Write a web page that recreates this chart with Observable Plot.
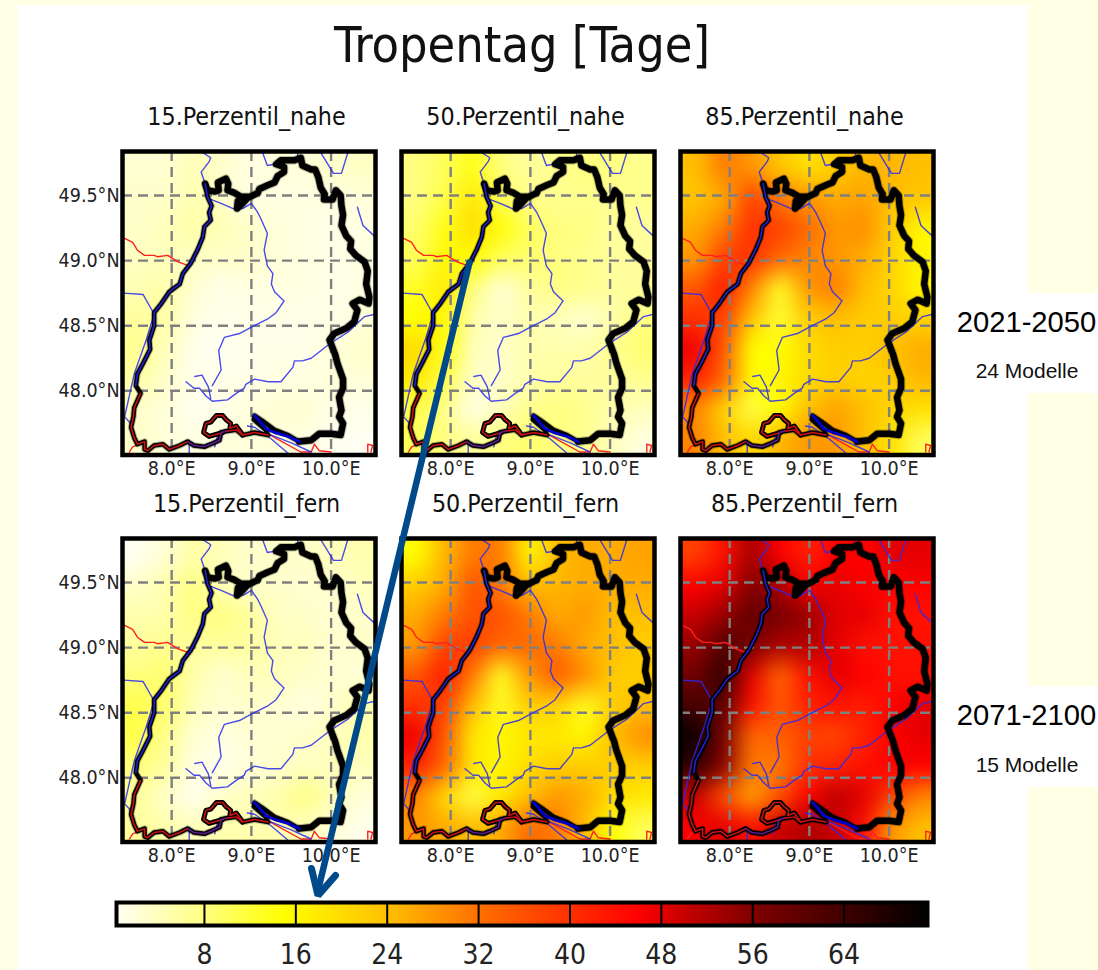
<!DOCTYPE html>
<html><head><meta charset="utf-8">
<script src="https://cdn.jsdelivr.net/npm/d3@7"></script>
<script src="https://cdn.jsdelivr.net/npm/@observablehq/plot@0.6"></script>
<style>
html,body{margin:0;padding:0;background:#ffffe6;overflow:hidden}
#page{position:relative;width:1098px;height:970px;overflow:hidden}
.bg{position:absolute;background:#fff}
.t{position:absolute;transform:translate(-50%,-50%);white-space:nowrap;color:#111}
.dj{font-family:"DejaVu Sans Condensed","DejaVu Sans",sans-serif}
.ar{font-family:"Liberation Sans",Arial,sans-serif}
#page svg{position:absolute;background:transparent;overflow:visible}
</style></head><body><div id="page"></div>
<script>
// ---------- data ----------
const gridCols = 9, gridRows = 10;
const lonTicks = [8, 9, 10], latTicks = [48, 48.5, 49, 49.5];
const cbTicks = [8, 16, 24, 32, 40, 48, 56, 64];
const cmapValues = [0, 8, 15, 24, 32, 40, 46, 50, 56, 64, 71.3];
const cmapColors = ["#fffff8", "#ffff80", "#ffff00", "#ffc000", "#ff7000", "#ff3000", "#ff0000", "#c80000", "#800000", "#400000", "#000000"];

const p15nahe = [
 2.5,2.5,4.5,3,1.5,2,2,3,3.5,
 3,3,5,3,1.5,1.5,1.5,1.5,2,
 3,4,5.5,4.5,3,2,1.5,1,1.5,
 3.5,4,3.5,3,3,2,1.5,1,1.5,
 4.5,5.5,2.5,1,1.5,1.5,1.5,1,1.5,
 6,5.5,1.5,0.8,1,1,1,1,2,
 7,4,0.8,0.3,1,1,1,2,3,
 5.5,3,0.8,1,1,1.5,1.5,2,2,
 3,2,0.5,1,2,2.5,2.5,1,1,
 3,2,1.5,2,2,2,1.5,0.5,0.2];
const p50nahe = [
 8,10,14,8,6,7,8,8,7,
 8,11,18,10,7,7,7,7,7,
 9,14,20,15,10,8,8,6,6,
 10,16,15,10,9,8,7,6,6,
 13,18,8,2,6,8,7,6,6,
 15,16,5,3,5,4,2.5,5,8,
 20,14,4,3,5,5,5,7,9,
 18,11,3,3,5,6,6,6,7,
 11,7,1,4,7,8,7,5,4,
 10,8,6,8,9,8,7,4,1.5];
const p85nahe = [
 24,31,28,23,19,22,25,25,24,
 23,26,38,31,28,26,27,24,23,
 26,31,40,38,33,28,29,22,16,
 28,38,40,33,30,28,26,21,16,
 35,43,30,13,28,31,24,21,16,
 40,38,23,12,22,24,22,22,21,
 47,35,15,15,20,22,22,24,26,
 42,33,15,16,20,22,21,22,25,
 30,21,11,15,24,27,24,21,19,
 30,24,20,25,28,28,24,19,10];
const p15fern = [
 0.5,2.5,5.5,4,3,3,3,4,5,
 3,5,8,4,3,3,2.5,3,4,
 5,5,8,8,6,3.5,3,2.5,3,
 6,7,6,6,6,4,4,2.5,3,
 8,9,5,2.5,4,4,3,2.5,2,
 11,9,4,2.5,3,2.5,1.5,3,5,
 11,7,2.5,1.5,2.5,2.5,3,4,5,
 8,6,1.5,1,2,3,3.5,4,4,
 6,3,0.5,3,4,5,8,4,2,
 6,5,4,5,5,5,4,2,0.8];
const p50fern = [
 15,25,31,31,16,24,26,26,27,
 22,26,36,31,24,25,26,26,26,
 26,31,36,36,31,26,28,24,24,
 28,38,38,33,33,31,26,24,22,
 35,43,31,13,28,35,29,22,22,
 40,38,24,13,22,21,13,22,24,
 47,35,18,16,18,18,16,24,29,
 42,33,18,16,20,22,22,22,22,
 30,20,11,18,24,28,26,20,18,
 28,26,24,26,33,31,24,15,10];
const p85fern = [
 38,44,53,46,42,46,46,48,48,
 46,48,56,52,46,48,46,46,46,
 50,54,60,57,54,48,48,44,44,
 54,62,57,52,52,48,44,44,44,
 58,66,48,33,44,48,46,44,44,
 63,60,44,35,42,44,42,46,48,
 70,57,33,34,38,37,42,46,48,
 66,55,31,31,40,42,44,46,46,
 50,36,27,36,46,51,48,38,30,
 46,48,44,50,52,50,44,28,24];

const borderEastLon = [8.42,8.45,8.54,8.59,8.58,8.68,8.71,8.70,8.79,8.87,8.97,8.83,8.82,8.89,8.95,9.08,9.10,9.21,9.29,9.33,9.41,9.41,9.31,9.37,9.54,9.62,9.64,9.75,9.80,9.84,9.87,9.92,9.91,10.02,10.06,10.12,10.13,10.15,10.13,10.19,10.25,10.24,10.31,10.42,10.46,10.44,10.48,10.47,10.36,10.27,10.33,10.29,10.19,10.04,9.98,10.05,10.08,10.15,10.15,10.10,10.13,10.10,10.15,10.12,10.00,9.85,9.75,9.60];
const borderEastLat = [49.59,49.54,49.53,49.54,49.60,49.63,49.59,49.54,49.52,49.49,49.49,49.46,49.40,49.44,49.48,49.52,49.55,49.58,49.60,49.65,49.68,49.72,49.74,49.77,49.77,49.79,49.73,49.70,49.70,49.64,49.56,49.51,49.47,49.47,49.54,49.50,49.42,49.35,49.27,49.19,49.15,49.09,49.04,48.99,48.92,48.82,48.72,48.67,48.70,48.67,48.62,48.53,48.48,48.44,48.39,48.28,48.21,48.09,48.02,47.95,47.85,47.80,47.75,47.66,47.67,47.67,47.62,47.61];
const borderWestLon = [9.60,9.46,9.29,9.16,9.04,9.03,9.18,9.21,9.04,8.89,8.81,8.68,8.62,8.60,8.49,8.41,8.28,8.20,8.10,7.97,7.89,7.78,7.70,7.66,7.66,7.57,7.53,7.49,7.52,7.53,7.61,7.55,7.57,7.64,7.73,7.72,7.78,7.78,7.87,7.97,8.10,8.14,8.24,8.33,8.39,8.41,8.49,8.47,8.50,8.45,8.42];
const borderWestLat = [47.61,47.66,47.70,47.76,47.81,47.78,47.70,47.66,47.68,47.66,47.70,47.69,47.68,47.62,47.59,47.57,47.58,47.61,47.58,47.55,47.59,47.58,47.54,47.55,47.61,47.59,47.64,47.72,47.80,47.87,47.98,48.04,48.13,48.21,48.32,48.39,48.50,48.60,48.67,48.76,48.82,48.90,48.98,49.09,49.18,49.26,49.31,49.37,49.42,49.49,49.59];
const lakeLon = [8.64,8.47,8.40,8.43,8.49,8.56,8.64,8.68,8.74,8.73,8.81,8.87,8.89];
const lakeLat = [47.68,47.65,47.68,47.75,47.76,47.81,47.81,47.78,47.75,47.71,47.73,47.68,47.66];
const lakeBlueLon = [9.04,9.10,9.18,9.29,9.46,9.60];
const lakeBlueLat = [47.81,47.77,47.71,47.68,47.65,47.61];

const neckarLon = [8.51,8.62,8.60,8.59,8.66,8.85,9.00,9.20,9.31,9.41,9.29,9.25,9.27,9.20,9.16,9.20,9.12,9.08,9.00,8.89,8.77,8.62,8.49];
const neckarLat = [48.04,48.16,48.26,48.31,48.41,48.44,48.49,48.55,48.60,48.69,48.76,48.82,48.90,48.96,49.08,49.21,49.32,49.37,49.44,49.40,49.40,49.44,49.47];
const danubeLon = [8.18,8.28,8.35,8.43,8.51,8.70,8.81,8.91,8.93,9.04,9.21,9.37,9.52,9.54,9.64,9.75,9.98,10.21,10.42,10.56];
const danubeLat = [48.07,48.02,48.02,47.96,47.92,47.93,47.98,48.02,48.05,48.09,48.07,48.07,48.18,48.23,48.23,48.25,48.36,48.45,48.57,48.59];
const brigachLon = [8.29,8.38,8.46,8.49];
const brigachLat = [48.11,48.12,48.03,47.94];
const rhineTopLon = [8.39,8.49,8.47,8.37,8.42];
const rhineTopLat = [49.83,49.79,49.76,49.68,49.59];
const illLon = [7.40,7.64,7.78,7.68,7.53,7.41,7.47,7.51];
const illLat = [48.75,48.74,48.59,48.39,48.13,47.80,47.76,47.67];
const jagstLon = [9.14,9.20,9.29];
const jagstLat = [49.83,49.73,49.74];
const kocherLon = [9.37,9.54,9.58,9.58];
const kocherLat = [49.77,49.76,49.77,49.83];
const tauberLon = [9.87,10.03,10.13,10.21];
const tauberLat = [49.83,49.67,49.67,49.83];
const mainLon = [10.33,10.40,10.54];
const mainLat = [49.41,49.27,49.19];
const hochrheinLon = [8.95,9.04,9.25,9.46];
const hochrheinLat = [47.73,47.72,47.63,47.52];
const alpRhineLon = [9.21,9.50,9.75];
const alpRhineLat = [47.67,47.60,47.53];
const wutachLon = [8.22,8.22];
const wutachLat = [47.62,47.52];
const aachLon = [8.58,8.54];
const aachLat = [47.67,47.57];

const frBorderLon = [7.41,7.51,7.57,7.66,7.78,7.82,7.95,8.08,8.22];
const frBorderLat = [49.17,49.14,49.08,49.04,49.04,49.03,49.04,48.99,48.96];
const swissWestLon = [7.47,7.51,7.64];
const swissWestLat = [47.53,47.57,47.60];
const swissEastLon = [9.21,9.62,9.75,9.79,9.85,10.00];
const swissEastLat = [47.67,47.53,47.53,47.59,47.54,47.53];
const tipLon = [10.46,10.46,10.52,10.50];
const tipLat = [47.53,47.59,47.58,47.53];
const redCoreLon = [7.61,7.53,7.52,7.49,7.53,7.57,7.66,7.66,7.70,7.78,7.89,7.97,8.10,8.20];
const redCoreLat = [47.98,47.87,47.80,47.72,47.64,47.59,47.61,47.55,47.54,47.58,47.59,47.55,47.58,47.61];
const redLakeLon = [8.68,8.81,8.89,9.04,9.21];
const redLakeLat = [47.69,47.70,47.66,47.68,47.66];
const purpleSouthLon = [8.20,8.28,8.41,8.49,8.60,8.62,8.68];
const purpleSouthLat = [47.61,47.58,47.57,47.59,47.62,47.68,47.69];
const rhineWestLon = [8.42,8.45,8.50,8.47,8.49,8.41,8.39,8.33,8.24,8.14,8.10,7.97,7.87,7.78,7.78,7.72,7.73,7.64,7.57,7.55];
const rhineWestLat = [49.59,49.49,49.42,49.37,49.31,49.26,49.18,49.09,48.98,48.90,48.82,48.76,48.67,48.60,48.50,48.39,48.32,48.21,48.13,48.04];
const arrowX = [469,317.5], arrowY = [262,890];
const arrowHeadX = [311,317.5,335], arrowHeadY = [868,895,875];

const panels = [
 {title:"15.Perzentil_nahe", values:p15nahe, col:0, row:0},
 {title:"50.Perzentil_nahe", values:p50nahe, col:1, row:0},
 {title:"85.Perzentil_nahe", values:p85nahe, col:2, row:0},
 {title:"15.Perzentil_fern", values:p15fern, col:0, row:1},
 {title:"50.Perzentil_fern", values:p50fern, col:1, row:1},
 {title:"85.Perzentil_fern", values:p85fern, col:2, row:1}
];
// ---------- layout ----------
const page = document.getElementById("page");
function bg(l,t,w,h){const d=document.createElement("div");d.className="bg";d.style.cssText=`left:${l}px;top:${t}px;width:${w}px;height:${h}px`;page.appendChild(d);}
function txt(s,cx,cy,size,cls){const d=document.createElement("div");d.className="t "+cls;d.textContent=s;d.style.left=cx+"px";d.style.top=cy+"px";d.style.fontSize=size+"px";page.appendChild(d);return d;}
bg(18,5,1010,965); bg(1028,293,70,100); bg(1028,686,70,101);

const color = {type:"linear", domain:cmapValues, range:cmapColors, clamp:true};
const lonDomain=[7.383,10.557], latDomain=[47.507,49.838];
const gridLon=[7.389,10.551], gridLat=[47.519,49.838];
const colX=[121.5,400.5,679.5], rowY=[151,538];
// one replicated ring of cells so that the smoothing does not fade at the panel edge
function ringed(v){
  const out=[];
  for(let r=-1;r<=gridRows;r++) for(let c=-1;c<=gridCols;c++){
    const rr=Math.max(0,Math.min(gridRows-1,r)), cc=Math.max(0,Math.min(gridCols-1,c));
    out.push(v[rr*gridCols+cc]);
  }
  return out;
}
const dLon=(gridLon[1]-gridLon[0])/gridCols, dLat=(gridLat[1]-gridLat[0])/gridRows;
const ln=(lon,lat,o)=>Plot.line(lon,{x:lon,y:lat,...o});
const blueThin={stroke:"#2a2af0",strokeWidth:1.4,strokeOpacity:0.85};
const redThin={stroke:"#ff2020",strokeWidth:1.4};
const redCore={stroke:"#d01010",strokeWidth:1.5};
const halo=(w)=>({stroke:"#000",strokeWidth:w+2,strokeOpacity:0.25,strokeLinejoin:"round"});
const solid=(w)=>({stroke:"#000",strokeWidth:w,strokeLinejoin:"round"});
const gridStyle={stroke:"#808080",strokeWidth:2.4,strokeDasharray:"10 6"};
const mL=72,mB=34;

panels.forEach(p=>{
  const left=colX[p.col], top=rowY[p.row];
  const marks=[
    Plot.raster(ringed(p.values),{width:gridCols+2,height:gridRows+2,
      x1:gridLon[0]-dLon,x2:gridLon[1]+dLon,y1:gridLat[1]+dLat,y2:gridLat[0]-dLat,clip:true,imageRendering:"auto"}),
    Plot.ruleX(lonTicks,gridStyle),
    Plot.ruleY(latTicks,gridStyle),
    ln(frBorderLon,frBorderLat,redThin), ln(swissWestLon,swissWestLat,redThin), ln(swissEastLon,swissEastLat,redThin), ln(tipLon,tipLat,redThin),
    ln(neckarLon,neckarLat,blueThin), ln(danubeLon,danubeLat,blueThin), ln(brigachLon,brigachLat,blueThin), ln(rhineTopLon,rhineTopLat,blueThin),
    ln(illLon,illLat,blueThin), ln(jagstLon,jagstLat,blueThin), ln(kocherLon,kocherLat,blueThin), ln(tauberLon,tauberLat,blueThin),
    ln(mainLon,mainLat,blueThin), ln(hochrheinLon,hochrheinLat,blueThin), ln(alpRhineLon,alpRhineLat,blueThin),
    ln(wutachLon,wutachLat,blueThin), ln(aachLon,aachLat,blueThin),
    ln(borderEastLon,borderEastLat,halo(6.5)),
    ln(borderEastLon,borderEastLat,solid(6.5)),
    ln(borderWestLon,borderWestLat,halo(4.5)),
    ln(borderWestLon,borderWestLat,solid(4.5)),
    ln(lakeLon,lakeLat,solid(5)),
    ln(lakeLon,lakeLat,redCore),
    ln(redCoreLon,redCoreLat,redCore),
    ln(redLakeLon,redLakeLat,redCore),
    ln(purpleSouthLon,purpleSouthLat,{stroke:"#5a1a90",strokeWidth:1.6}),
    ln(rhineWestLon,rhineWestLat,{stroke:"#2020d0",strokeWidth:1.6}),
    ln(lakeBlueLon,lakeBlueLat,{stroke:"#0000c8",strokeWidth:3}),
    Plot.frame({stroke:"#000",strokeWidth:4.5}),
    Plot.axisX(lonTicks,{anchor:"bottom",tickSize:0,tickPadding:6,tickFormat:d=>d.toFixed(1)+"°E",fontSize:19.5,fill:"#222"})
  ];
  if(p.col===0) marks.push(Plot.axisY(latTicks,{anchor:"left",tickSize:0,tickPadding:3,tickFormat:d=>d.toFixed(1)+"°N",fontSize:19.5,fill:"#222"}));
  const svg=Plot.plot({
    width:mL+253+4,height:4+303.5+mB,marginLeft:mL,marginRight:4,marginTop:4,marginBottom:mB,
    style:{background:"transparent",fontFamily:'"DejaVu Sans Condensed","DejaVu Sans",sans-serif'},
    x:{domain:lonDomain,axis:null},y:{domain:latDomain,axis:null},color,marks
  });
  svg.querySelector("image").style.filter="blur(7px)";
  svg.style.left=(left-mL)+"px"; svg.style.top=(top-4)+"px";
  page.appendChild(svg);
  txt(p.title,left+125,top-35,24.8,"dj");
});

// colour bar
const cb=Plot.plot({
  width:1098,height:72,marginLeft:116,marginRight:171,marginTop:4,marginBottom:45,
  style:{background:"transparent",fontFamily:'"DejaVu Sans Condensed","DejaVu Sans",sans-serif'},
  x:{domain:[0.3,71.3],axis:null},y:{domain:[0,1],axis:null},color,
  marks:[
    Plot.raster({fill:(x)=>x,x1:0.3,x2:71.3,y1:0,y2:1,pixelSize:1}),
    Plot.ruleX(cbTicks,{stroke:"#000",strokeWidth:2}),
    Plot.frame({stroke:"#000",strokeWidth:4}),
    Plot.axisX(cbTicks,{anchor:"bottom",tickSize:0,tickPadding:19,fontSize:28,fill:"#222",tickFormat:d=>String(d)})
  ]
});
cb.style.left="0px"; cb.style.top="898px"; page.appendChild(cb);

// annotation arrow
const ov=Plot.plot({
  width:1098,height:970,margin:0,style:{background:"transparent"},
  x:{domain:[0,1098],axis:null},y:{domain:[0,970],range:[0,970],axis:null},
  marks:[
    Plot.line(arrowX,{x:arrowX,y:arrowY,stroke:"#004a8c",strokeWidth:6.5}),
    Plot.line(arrowHeadX,{x:arrowHeadX,y:arrowHeadY,stroke:"#004a8c",strokeWidth:7,strokeLinejoin:"miter"})
  ]
});
ov.style.left="0px"; ov.style.top="0px"; ov.style.pointerEvents="none"; page.appendChild(ov);

txt("Tropentag [Tage]",522,45,50,"dj");
txt("2021-2050",1026.5,322,29.2,"ar").style.color="#000";
txt("24 Modelle",1027,371,21,"ar");
txt("2071-2100",1026.5,715,29.2,"ar").style.color="#000";
txt("15 Modelle",1027,765,21,"ar");
</script></body></html>
